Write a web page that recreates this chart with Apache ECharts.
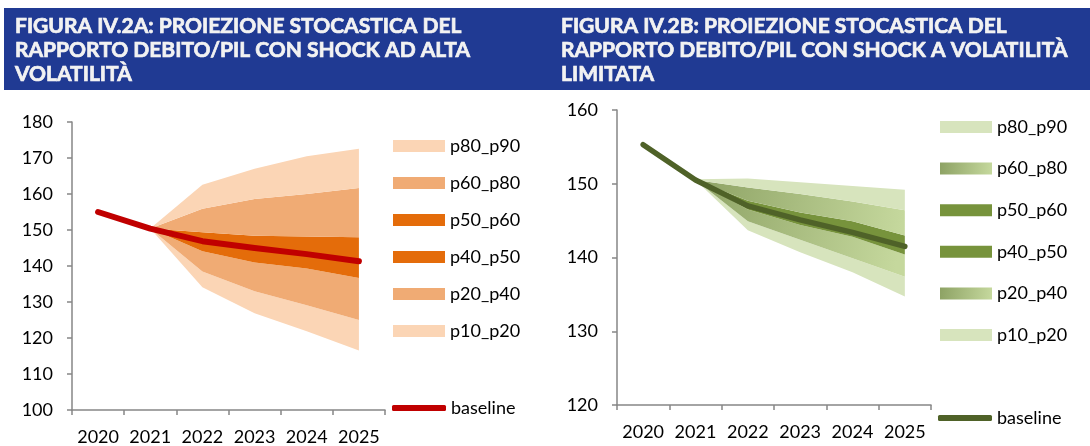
<!DOCTYPE html>
<html><head><meta charset="utf-8">
<script src="https://cdn.jsdelivr.net/npm/echarts@6/dist/echarts.min.js"></script>
<style>html,body{margin:0;padding:0;background:#fff}#c{width:1090px;height:446px}</style>
</head><body><div id="c"></div>
<script>
const years = ['2020','2021','2022','2023','2024','2025'];
const bandNames = ['p10_p20','p20_p40','p40_p50','p50_p60','p60_p80','p80_p90'];
const titleA = 'FIGURA IV.2A: PROIEZIONE STOCASTICA DEL\nRAPPORTO DEBITO/PIL CON SHOCK AD ALTA\nVOLATILITÀ';
const titleB = 'FIGURA IV.2B: PROIEZIONE STOCASTICA DEL\nRAPPORTO DEBITO/PIL CON SHOCK A VOLATILITÀ\nLIMITATA';

// Chart A (alta volatilità)
const baselineA = [155.0, 150.4, 146.9, 145.0, 143.3, 141.3];
const p10A = [null, 150.4, 134.1, 126.9, 121.9, 116.5];
const p20A = [null, 150.4, 138.5, 133.0, 129.1, 125.0];
const p40A = [null, 150.4, 144.1, 141.0, 139.3, 136.7];
const p50A = [null, 150.4, 146.9, 145.0, 143.3, 141.3];
const p60A = [null, 150.4, 149.4, 148.4, 148.2, 148.0];
const p80A = [null, 150.4, 155.9, 158.6, 160.0, 161.7];
const p90A = [null, 150.4, 162.6, 167.0, 170.5, 172.6];

// Chart B (volatilità limitata)
const baselineB = [155.3, 150.5, 147.0, 145.1, 143.4, 141.5];
const p10B = [null, 150.5, 143.7, 140.7, 138.0, 134.7];
const p20B = [null, 150.5, 144.9, 142.4, 139.9, 137.4];
const p40B = [null, 150.5, 146.5, 144.4, 142.8, 140.4];
const p50B = [null, 150.5, 147.0, 145.1, 143.4, 141.5];
const p60B = [null, 150.5, 147.7, 146.1, 144.9, 143.0];
const p80B = [null, 150.5, 149.5, 148.6, 147.6, 146.4];
const p90B = [null, 150.6, 150.7, 150.2, 149.7, 149.2];

const FONT = 'Lato';
const SUF = ['', ' '];  // suffix to keep series names unique per chart
function diff(a, b) { return a.map((v, i) => v == null ? null : +(v - b[i]).toFixed(3)); }

function fanSeries(idx, stackId, pcts, colors) {
  const out = [{
    type: 'line', name: '_base' + idx, xAxisIndex: idx, yAxisIndex: idx, stack: stackId,
    data: pcts[0], symbol: 'none', lineStyle: { width: 0, opacity: 0 }, silent: true
  }];
  for (let k = 0; k < 6; k++) {
    out.push({
      type: 'line', name: bandNames[k] + SUF[idx], xAxisIndex: idx, yAxisIndex: idx, stack: stackId,
      data: diff(pcts[k + 1], pcts[k]), symbol: 'none',
      lineStyle: { width: 0, opacity: 0 },
      itemStyle: { color: colors[k] },
      areaStyle: { color: colors[k], opacity: 1 }
    });
  }
  return out;
}

const lA = '#FBD5B5', mA = '#F0AB74', dA = '#E46C0A';
const gradB = () => new echarts.graphic.LinearGradient(0, 0, 1, 0.4, [
  { offset: 0, color: '#8DA264' }, { offset: 1, color: '#C5D89D' }]);
const lB = '#D7E4BD', dB = '#77933C';

const axisLabelStyle = { color: '#000', fontSize: 18, fontFamily: FONT };
function xAx(gi) {
  return {
    type: 'category', gridIndex: gi, data: years, boundaryGap: true,
    axisLine: { show: true, lineStyle: { color: '#868686', width: 1.5 } },
    axisTick: { show: true, length: 5, lineStyle: { color: '#868686', width: 1.5 } },
    axisLabel: Object.assign({ margin: 18, interval: 0 }, axisLabelStyle),
    splitLine: { show: false }
  };
}
function yAx(gi, min, max) {
  return {
    type: 'value', gridIndex: gi, min: min, max: max, interval: 10,
    axisLine: { show: true, lineStyle: { color: '#868686', width: 1.5 } },
    axisTick: { show: true, length: 5, lineStyle: { color: '#868686', width: 1.5 } },
    axisLabel: Object.assign({ margin: 19 }, axisLabelStyle),
    splitLine: { show: false }
  };
}
const legendText = { color: '#000', fontSize: 18, fontFamily: FONT, lineHeight: 18 };
const strip = n => n.trim();
const titleStyle = { color: '#F2F2F2', fontSize: 21, fontWeight: 'bold', fontFamily: 'Lato', lineHeight: 24,
  textBorderColor: '#F2F2F2', textBorderWidth: 0.7 };

const chart = echarts.init(document.getElementById('c'), null, { renderer: 'canvas' });
chart.setOption({
  animation: false,
  backgroundColor: '#fff',
  graphic: [{ type: 'rect', left: 4, top: 8, shape: { width: 1086, height: 82 }, style: { fill: '#203A93' }, z: -1 }],
  title: [
    { text: titleA, left: 15, top: 14, padding: 0, textStyle: titleStyle },
    { text: titleB, left: 561, top: 14, padding: 0, textStyle: titleStyle }
  ],
  grid: [
    { left: 72, top: 122, width: 313, height: 288, containLabel: false },
    { left: 617, top: 110, width: 314, height: 295, containLabel: false }
  ],
  xAxis: [xAx(0), xAx(1)],
  yAxis: [yAx(0, 100, 180), yAx(1, 120, 160)],
  legend: [
    { orient: 'vertical', left: 393, top: 137, padding: 0, itemWidth: 52, itemHeight: 12, itemGap: 19, icon: 'rect',
      data: bandNames.slice().reverse(), textStyle: legendText, selectedMode: false, formatter: strip },
    { orient: 'vertical', left: 392, top: 399, padding: 0, itemWidth: 54, itemHeight: 6, icon: 'roundRect',
      data: ['baseline'], textStyle: legendText, selectedMode: false },
    { orient: 'vertical', left: 940, top: 118, padding: 0, itemWidth: 52, itemHeight: 12, itemGap: 23.6, icon: 'rect',
      data: bandNames.slice().reverse().map(n => n + SUF[1]), textStyle: legendText, selectedMode: false, formatter: strip },
    { orient: 'vertical', left: 938, top: 409, padding: 0, itemWidth: 54, itemHeight: 6, icon: 'roundRect',
      data: ['baseline' + SUF[1]], textStyle: legendText, selectedMode: false, formatter: strip }
  ],
  series: [].concat(
    fanSeries(0, 'fanA', [p10A, p20A, p40A, p50A, p60A, p80A, p90A], [lA, mA, dA, dA, mA, lA]),
    [{ type: 'line', name: 'baseline', xAxisIndex: 0, yAxisIndex: 0, data: baselineA, symbol: 'none',
       lineStyle: { color: '#C00000', width: 6, cap: 'round', join: 'round' }, itemStyle: { color: '#C00000' }, z: 5 }],
    fanSeries(1, 'fanB', [p10B, p20B, p40B, p50B, p60B, p80B, p90B], [lB, gradB(), dB, dB, gradB(), lB]),
    [{ type: 'line', name: 'baseline' + SUF[1], xAxisIndex: 1, yAxisIndex: 1, data: baselineB, symbol: 'none',
       lineStyle: { color: '#4F6228', width: 5.5, cap: 'round', join: 'round' }, itemStyle: { color: '#4F6228' }, z: 5 }]
  )
});
</script></body></html>
